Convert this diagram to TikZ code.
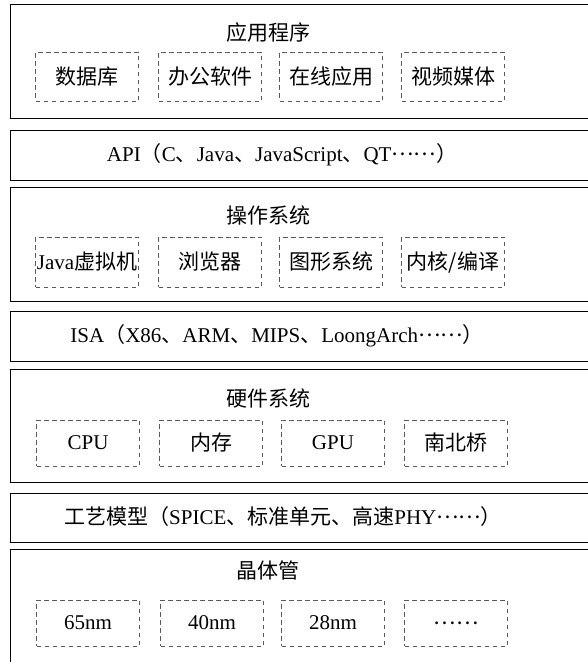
\documentclass[tikz,border=0pt]{standalone}
\usepackage{fontspec}
\setmainfont{Liberation Serif}
\newfontfamily\cjk{Noto Sans CJK SC}
\newcommand\dotsmid{\raisebox{0.32em}{\cjk ……}}

\tikzset{
  layer/.style={draw, line width=0.9pt, anchor=north west,
    minimum width=600pt, inner sep=0pt, outer sep=0pt},
  part/.style={draw=black!65, dash pattern=on 4.5pt off 3.5pt,
    line width=0.8pt, minimum width=103pt, inner sep=0pt},
}

\begin{document}
\begin{tikzpicture}[x=1pt,y=-1pt,font=\fontsize{21}{25}\selectfont]
  \useasboundingbox (0,0) rectangle (588,662);
  \clip (0,0) rectangle (588,662);

  % layers, top to bottom
  \node[layer, minimum height=114pt] (app) at (10,4) {};
  \node[layer, minimum height=50pt]  (api) at (10,130) {};
  \node[layer, minimum height=114pt] (os)  at (10,187) {};
  \node[layer, minimum height=50pt]  (isa) at (10,311) {};
  \node[layer, minimum height=113pt] (hw)  at (10,369) {};
  \node[layer, minimum height=49pt]  (phy) at (10,493) {};
  \node[layer, minimum height=120pt] (tr)  at (10,549) {};

  % titles and one-line texts
  \node (appT) at (268,33)  {\cjk 应用程序};
  \node (apiT) at (282,155) {API{\cjk （}C{\cjk 、}Java{\cjk 、}JavaScript{\cjk 、}QT\dotsmid{\cjk ）}};
  \node (osT)  at (268,215) {\cjk 操作系统};
  \node (isaT) at (277,336) {ISA{\cjk （}X86{\cjk 、}ARM{\cjk 、}MIPS{\cjk 、}LoongArch\dotsmid{\cjk ）}};
  \node (hwT)  at (268,398) {\cjk 硬件系统};
  \node (phyT) at (283,517) {{\cjk 工艺模型（}SPICE{\cjk 、标准单元、高速}PHY\dotsmid{\cjk ）}};
  \node (trT)  at (268,570) {\cjk 晶体管};

  % parts inside the layers
  \node[part, minimum height=49pt] (db)   at (87,76.5)  {\cjk 数据库};
  \node[part, minimum height=49pt] (off)  at (210,76.5) {\cjk 办公软件};
  \node[part, minimum height=49pt] (web)  at (331,76.5) {\cjk 在线应用};
  \node[part, minimum height=49pt] (vid)  at (453,76.5) {\cjk 视频媒体};

  \node[part, minimum height=50pt] (jvm)  at (87,262)  {Java{\cjk 虚拟机}};
  \node[part, minimum height=50pt] (brw)  at (210,262) {\cjk 浏览器};
  \node[part, minimum height=50pt] (gfx)  at (331,262) {\cjk 图形系统};
  \node[part, minimum height=50pt] (ker)  at (453,262) {\cjk 内核/编译};

  \node[part, minimum height=46pt] (cpu)  at (88,443)  {CPU};
  \node[part, minimum height=46pt] (mem)  at (211,443) {\cjk 内存};
  \node[part, minimum height=46pt] (gpu)  at (333,443) {GPU};
  \node[part, minimum height=46pt] (nsb)  at (456,443) {\cjk 南北桥};

  \node[part, minimum height=46pt] (n65)  at (88,623)  {65nm};
  \node[part, minimum height=46pt] (n40)  at (212,623) {40nm};
  \node[part, minimum height=46pt] (n28)  at (333,623) {28nm};
  \node[part, minimum height=46pt] (more) at (456,623) {\smash{\dotsmid}\vphantom{\cjk 内}};
\end{tikzpicture}
\end{document}
